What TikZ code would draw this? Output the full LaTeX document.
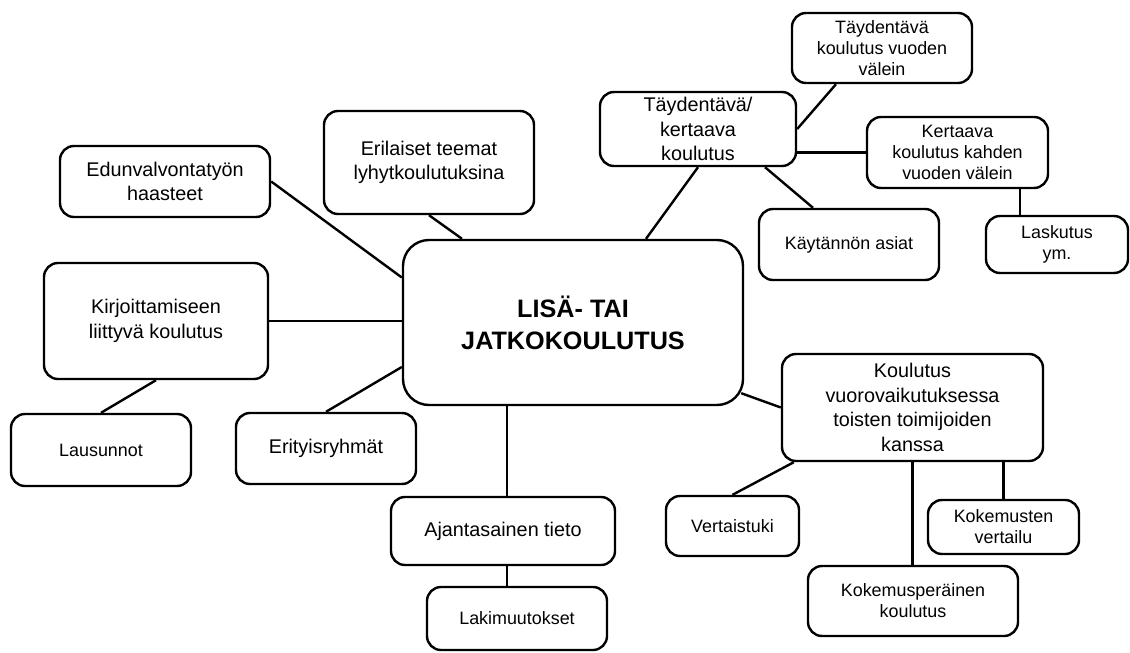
\documentclass[tikz,border=0pt]{standalone}
\usepackage{fontspec}
\setmainfont{Liberation Sans}
\usetikzlibrary{calc}

\tikzset{
    hub/.style={draw, line width=2.4pt, rounded corners=26pt, align=center, inner sep=0pt, font=\bfseries\fontsize{25.2}{32}\selectfont},
    topic/.style={draw, line width=2.4pt, rounded corners=14pt, align=center, inner sep=0pt, font=\fontsize{19.8}{24.5}\selectfont},
    subtopic/.style={topic, font=\fontsize{17.9}{21}\selectfont},
    link/.style={line width=2.4pt}
}

\begin{document}
\begin{tikzpicture}[x=1pt, y=-1pt]
        \useasboundingbox (0, 0) rectangle (1130, 653);

        \node[hub, minimum width=340, minimum height=165] (main) at (573, 322.5) {LISÄ- TAI\\JATKOKOULUTUS};

        \node[topic, minimum width=210, minimum height=71] (edun) at (165, 181.5) {Edunvalvontatyön\\haasteet};
        \node[topic, minimum width=210, minimum height=103] (eril) at (429, 162.5) {Erilaiset teemat\\lyhytkoulutuksina};
        \node[topic, minimum width=224, minimum height=116] (kirj) at (156, 321) {Kirjoittamiseen\\liittyvä koulutus};
        \node[subtopic, minimum width=180, minimum height=72] (laus) at (101, 450) {Lausunnot};
        \node[topic, minimum width=180, minimum height=71] (erit) at (326, 448.5) {Erityisryhmät};
        \node[topic, minimum width=224, minimum height=68] (ajan) at (503, 531) {Ajantasainen tieto};
        \node[subtopic, minimum width=180, minimum height=63] (laki) at (517, 618.5) {Lakimuutokset};

        \node[topic, minimum width=196, minimum height=74] (tk) at (698, 129) {Täydentävä/\\kertaava\\koulutus};
        \node[subtopic, minimum width=180, minimum height=70] (tv) at (882, 48) {Täydentävä\\koulutus vuoden\\välein};
        \node[subtopic, minimum width=181, minimum height=71] (kert) at (957.5, 152.5) {Kertaava\\koulutus kahden\\vuoden välein};
        \node[subtopic, minimum width=180, minimum height=71] (kayt) at (849, 244.5) {Käytännön asiat};
        \node[subtopic, minimum width=142, minimum height=57] (lask) at (1057, 244.5) {Laskutus\\ym.};

        \node[topic, minimum width=261, minimum height=107] (kv) at (912.5, 407.5) {Koulutus\\vuorovaikutuksessa\\toisten toimijoiden\\kanssa};
        \node[subtopic, minimum width=133, minimum height=60] (vert) at (732.5, 526) {Vertaistuki};
        \node[subtopic, minimum width=151, minimum height=54] (kokv) at (1003.5, 527) {Kokemusten\\vertailu};
        \node[subtopic, minimum width=210, minimum height=70] (kokp) at (913, 601) {Kokemusperäinen\\koulutus};

        \draw[link] (edun.east) -- ([yshift=45pt]main.west);
        \draw[link] (eril.south) -- ([xshift=-111pt]main.north);
        \draw[link] (kirj.east) -- (kirj.east -| main.west);
        \draw[link] (kirj.south) -- (laus.north);
        \draw[link] (erit.north) -- ([yshift=-44.5pt]main.west);
        \draw[link] ([xshift=-66pt]main.south) coordinate (m1) -- (m1 |- ajan.north);
        \draw[link] (ajan.south -| m1) -- (m1 |- laki.north);

        \draw[link] ([xshift=73pt]main.north) -- (tk.south);
        \draw[link] (tk.east) -- ([xshift=-46pt]tv.south);
        \draw[link] (kert.west -| tk.east) -- (kert.west);
        \draw[link] ([xshift=67pt]tk.south) -- ([xshift=-36pt]kayt.north);
        \draw[link] ([xshift=62.5pt]kert.south) coordinate (k1) -- (k1 |- lask.north);

        \draw[link] ([xshift=-3pt, yshift=13pt]main.south east) -- (kv.west);
        \draw[link] ([xshift=13pt]kv.south west) -- (vert.north);
        \draw[link] (kv.south) -- (kv.south |- kokp.north);
        \draw[link] (kokv.north |- kv.south) -- (kokv.north);
    \end{tikzpicture}
\end{document}
